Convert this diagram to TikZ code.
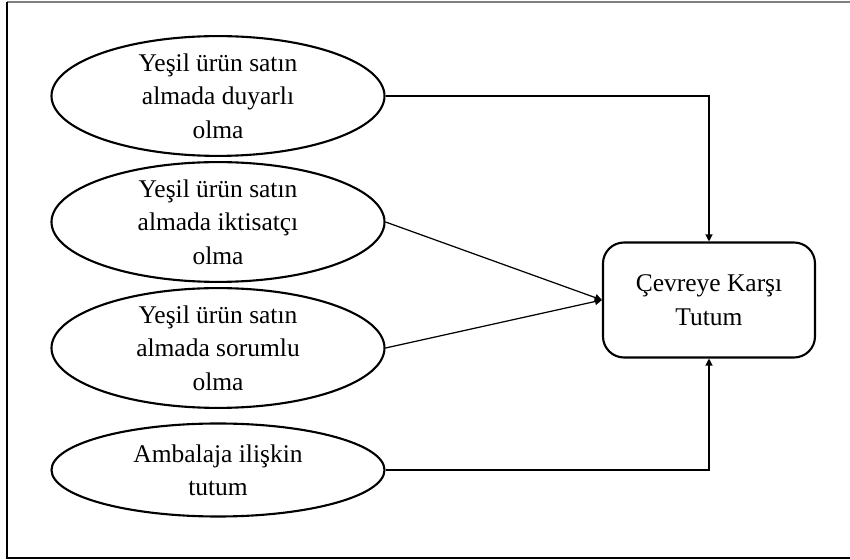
\documentclass[tikz,border=0pt]{standalone}
\usepackage{fontspec}
\setmainfont{Liberation Serif}
\usetikzlibrary{arrows.meta,shapes.geometric}

\tikzset{
  factor/.style={draw,ellipse,line width=1.2pt,minimum width=6.66cm,
    minimum height=1.86cm,inner sep=0pt,align=center},
  target/.style={draw,rectangle,rounded corners=.42cm,line width=1.2pt,
    minimum width=4.24cm,minimum height=2.3cm,align=center},
  link/.style={line width=.7pt,-{Triangle[length=4pt,width=4pt]}}
}

\begin{document}
\begin{tikzpicture}[font=\fontsize{14.5}{19}\selectfont]
  \useasboundingbox (0,0) rectangle (17,11.2);
  \draw[gray,line width=1pt] (17,11.16) -- (.14,11.16);
  \draw[line width=.9pt] (.14,11.16) -- (.14,.04) -- (17,.04);

  \node[factor] (duyarli) at (4.36,9.28) {Yeşil ürün satın\\almada duyarlı\\olma};
  \node[factor] (iktisatci) at (4.36,6.76) {Yeşil ürün satın\\almada iktisatçı\\olma};
  \node[factor] (sorumlu) at (4.36,4.24) {Yeşil ürün satın\\almada sorumlu\\olma};
  \node[factor] (ambalaj) at (4.36,1.8) {Ambalaja ilişkin\\tutum};

  \node[target] (tutum) at (14.18,5.2) {Çevreye Karşı\\Tutum};

  \draw[link] (duyarli.east) -| (tutum.north);
  \draw[link] (iktisatci.east) -- (tutum.west);
  \draw[link] (sorumlu.east) -- (tutum.west);
  \draw[link] (ambalaj.east) -| (tutum.south);
\end{tikzpicture}
\end{document}
